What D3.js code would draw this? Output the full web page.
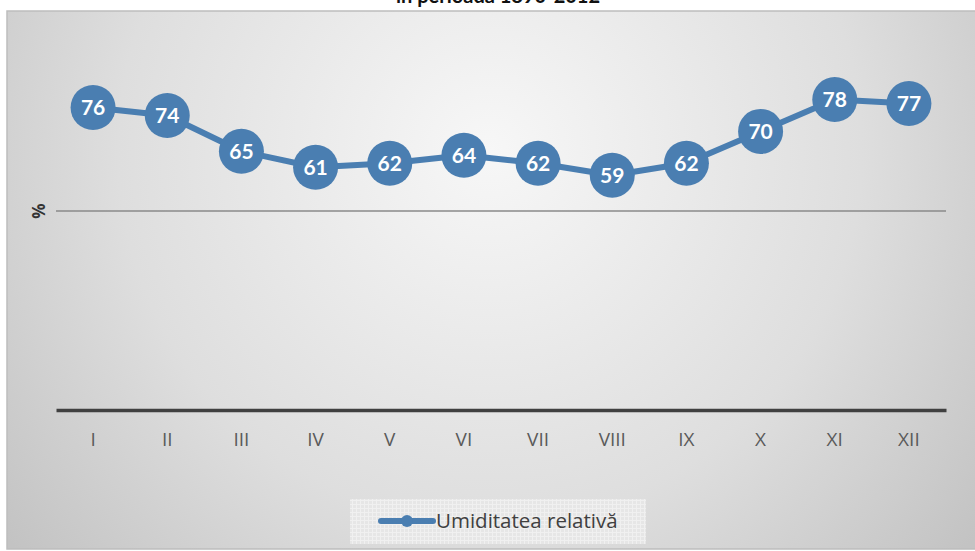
<!DOCTYPE html>
<html><head><meta charset="utf-8">
<script src="https://cdn.jsdelivr.net/npm/d3@7"></script>
<style>html,body{margin:0;padding:0;background:#fff;overflow:hidden}</style>
</head><body>
<script>
const months = ["I","II","III","IV","V","VI","VII","VIII","IX","X","XI","XII"];
const humidity = [76,74,65,61,62,64,62,59,62,70,78,77];
const yTicks = [0,50,100];
const seriesName = "Umiditatea relativă";
const titleText = "în perioada 1890-2012";

const W = 975, H = 551;
const svg = d3.select("body").append("svg").attr("width", W).attr("height", H);
const defs = svg.append("defs");
const rg = defs.append("radialGradient").attr("id","bg")
  .attr("gradientUnits","userSpaceOnUse").attr("cx",490).attr("cy",150).attr("r",620);
rg.append("stop").attr("offset","0%").attr("stop-color","#f7f7f7");
rg.append("stop").attr("offset","60%").attr("stop-color","#dedede");
rg.append("stop").attr("offset","100%").attr("stop-color","#c3c3c3");
const pat = defs.append("pattern").attr("id","grid").attr("width",4).attr("height",4).attr("patternUnits","userSpaceOnUse");
pat.append("rect").attr("width",4).attr("height",4).attr("fill","#e6e6e6");
pat.append("path").attr("d","M0 0.5H4M0.5 0V4").attr("stroke","#f0f0f0").attr("stroke-width",1);

svg.append("rect").attr("x",7).attr("y",11).attr("width",975).attr("height",538)
  .attr("fill","url(#bg)").attr("stroke","#bdbdbd").attr("stroke-width",1.5);

svg.append("text").attr("x",498).attr("y",3).attr("text-anchor","middle")
  .attr("font-family","Lato, 'Open Sans', sans-serif").attr("font-weight","bold")
  .attr("font-size",20).attr("fill","#111").text(titleText);

const x = d3.scaleBand().domain(months).range([56,946]);
const y = d3.scaleLinear().domain([0,100]).range([410,12]);

const g = svg.append("g");
g.selectAll("line.grid").data(yTicks.filter(v=>v>0 && v<100)).join("line")
  .attr("x1",56).attr("x2",946).attr("y1",d=>y(d)).attr("y2",d=>y(d))
  .attr("stroke","#8a8a8a").attr("stroke-width",1.5);

const xAxis = svg.append("g").attr("transform",`translate(0,${y(0)})`)
  .call(d3.axisBottom(x).tickSize(0).tickPadding(30));
xAxis.select(".domain").attr("stroke","#404040").attr("stroke-width",3.5);
xAxis.selectAll("text").attr("font-family","'Open Sans', sans-serif").attr("font-size",19)
  .attr("fill","#5a5a5a").attr("dy","0.3em");

svg.append("text").attr("transform",`translate(45,${y(50)}) rotate(-90)`)
  .attr("text-anchor","middle").attr("font-family","'Open Sans', sans-serif")
  .attr("font-weight","bold").attr("font-size",17).attr("fill","#333").text("%");

const col = "#4a7eb1";
const line = d3.line().x((d,i)=>x(months[i])+x.bandwidth()/2).y(d=>y(d));
svg.append("path").datum(humidity).attr("d",line).attr("fill","none")
  .attr("stroke",col).attr("stroke-width",6).attr("stroke-linejoin","round");
const pts = svg.selectAll("g.pt").data(humidity).join("g")
  .attr("transform",(d,i)=>`translate(${x(months[i])+x.bandwidth()/2},${y(d)})`);
pts.append("circle").attr("r",22.5).attr("fill",col);
pts.append("text").attr("text-anchor","middle").attr("dy","0.36em")
  .attr("font-family","Lato, 'Open Sans', sans-serif").attr("font-weight","bold")
  .attr("font-size",21).attr("fill","#fff").text(d=>d);

const lg = svg.append("g");
lg.append("rect").attr("x",350).attr("y",499).attr("width",296).attr("height",45).attr("fill","url(#grid)");
lg.append("line").attr("x1",381).attr("x2",433).attr("y1",521).attr("y2",521)
  .attr("stroke",col).attr("stroke-width",6).attr("stroke-linecap","round");
lg.append("circle").attr("cx",407).attr("cy",521).attr("r",6).attr("fill",col);
lg.append("text").attr("x",436).attr("y",528).attr("font-family","'Open Sans', sans-serif")
  .attr("font-size",20.5).attr("fill","#404040").text(seriesName);
</script>
</body></html>
